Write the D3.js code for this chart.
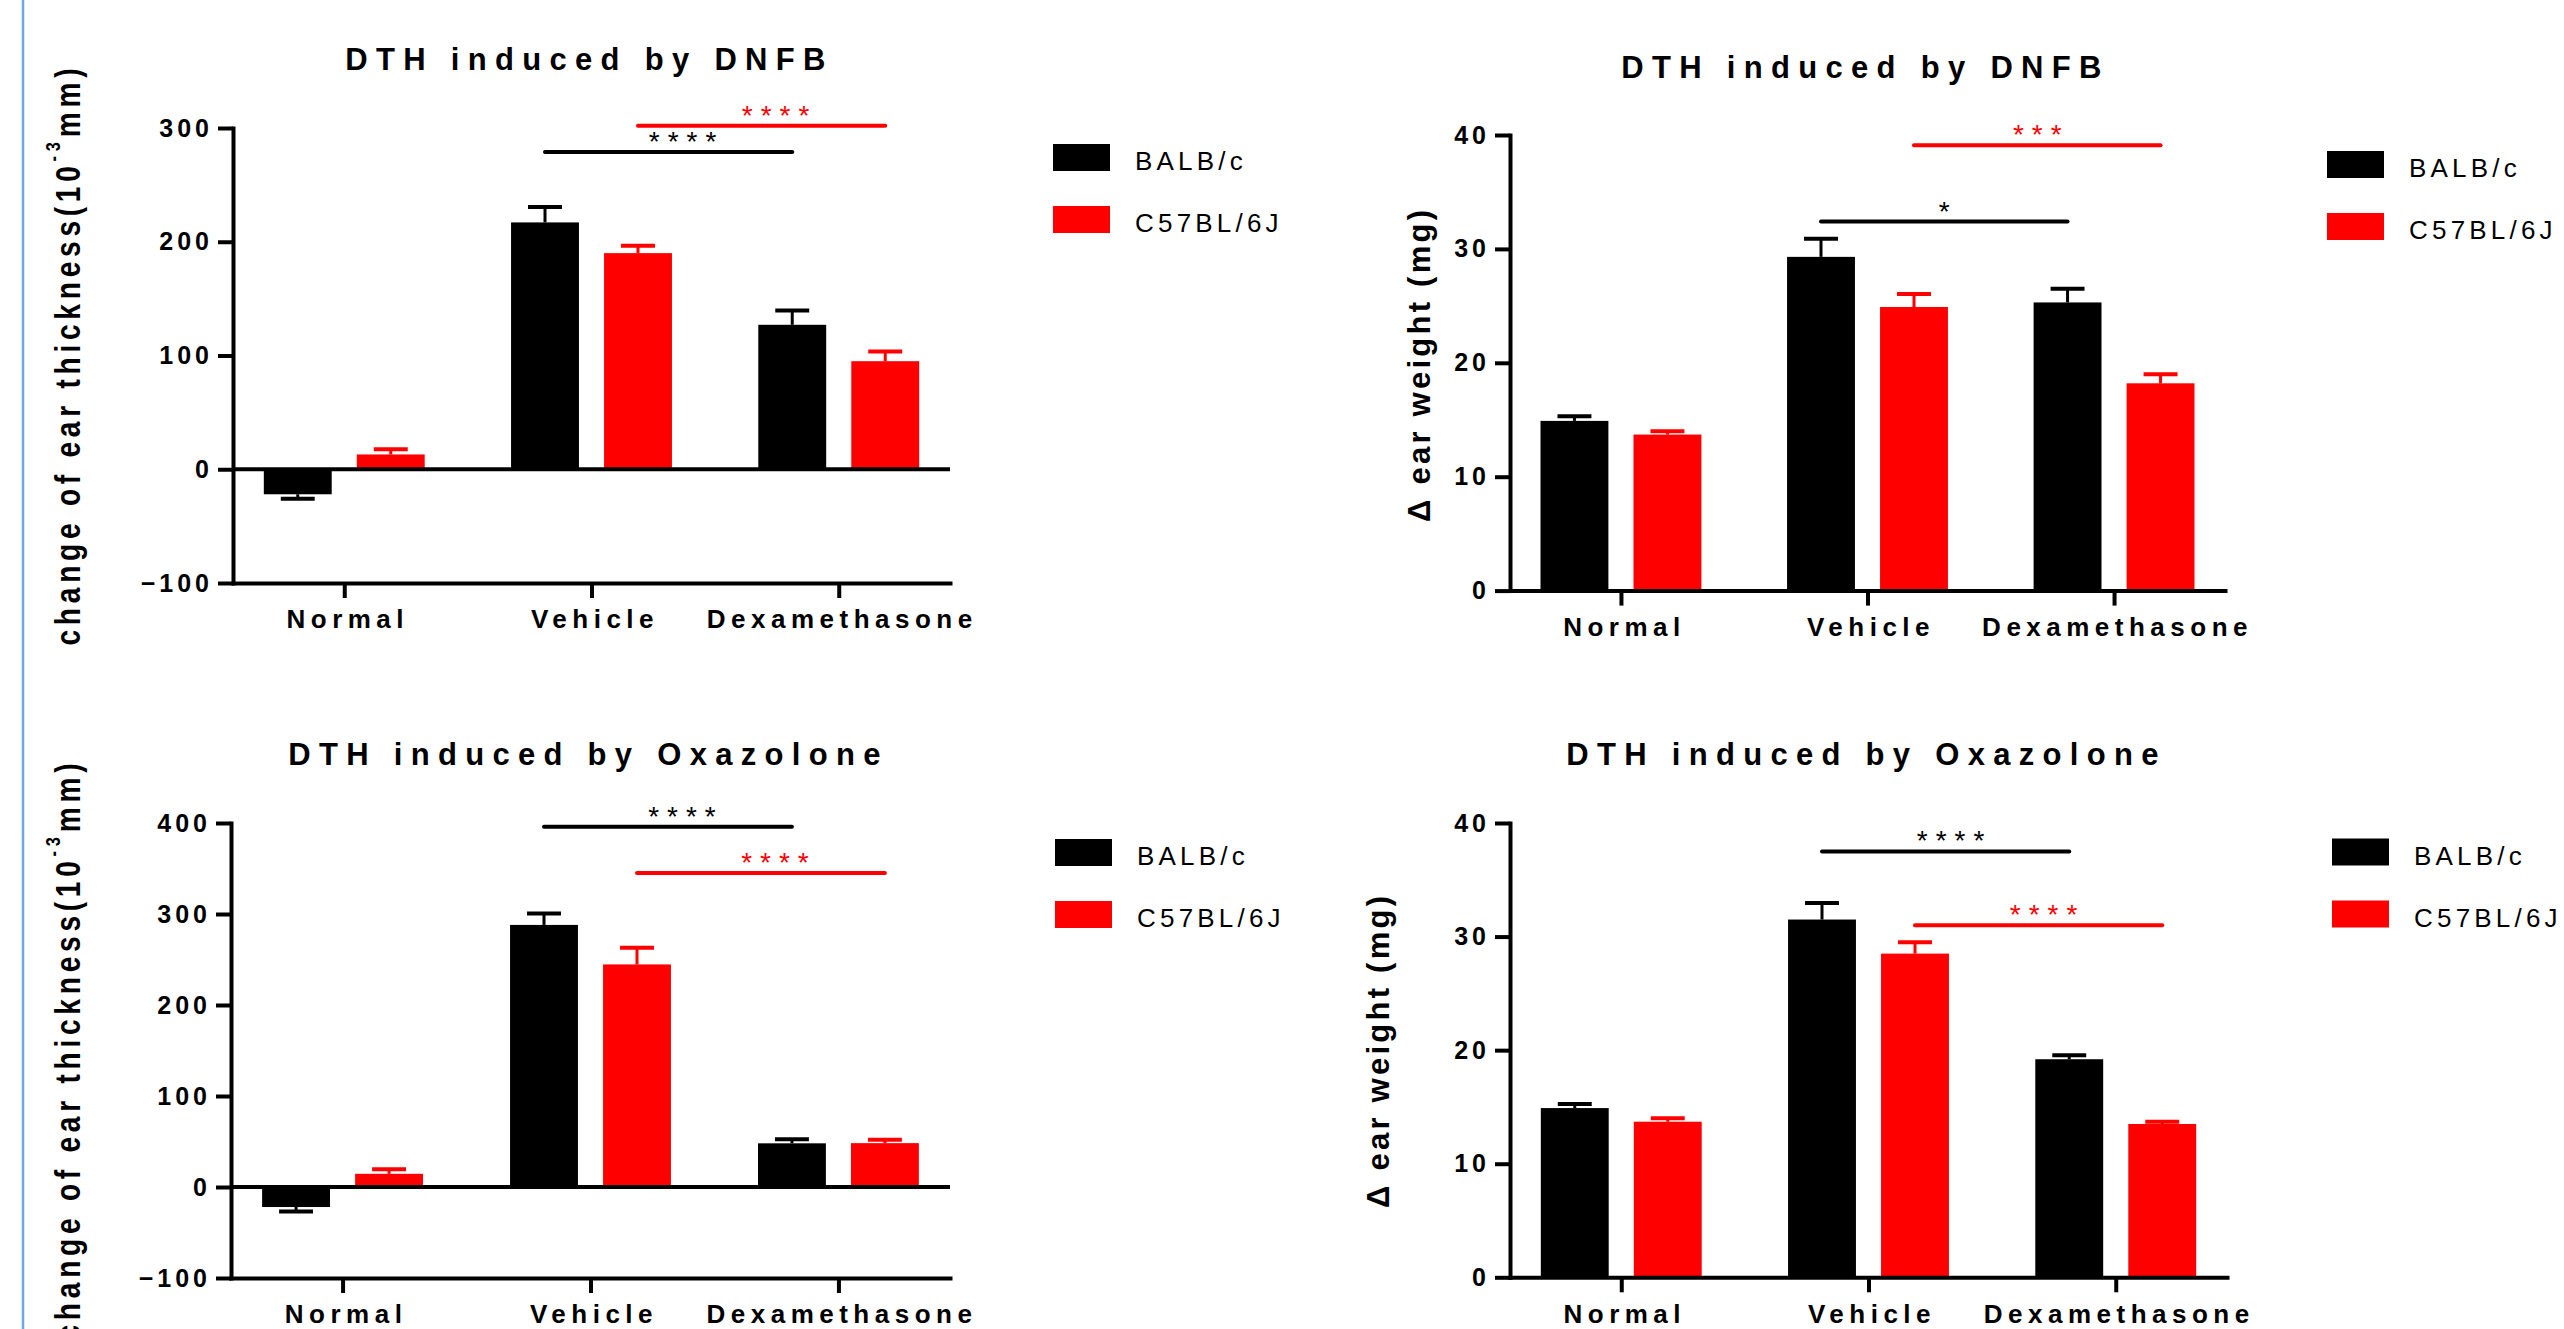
<!DOCTYPE html>
<html>
<head>
<meta charset="utf-8">
<script src="https://cdn.jsdelivr.net/npm/d3@7.9.0/dist/d3.min.js"></script>
<style>
  body { margin: 0; background: #fff; }
  svg { display: block; }
  text { font-family: "Liberation Sans", Arial, sans-serif; }
</style>
</head>
<body>
<svg id="chart" width="2564" height="1329"></svg>
<script>
const categories = ['Normal', 'Vehicle', 'Dexamethasone'];
const strains = ['BALB/c', 'C57BL/6J'];
const strainColors = ['#000000', '#ff0000'];

// DTH induced by DNFB, change of ear thickness (10^-3 mm)
const dnfbThickTicks = [-100, 0, 100, 200, 300];
const dnfbThickBalb = [-22, 217, 127];
const dnfbThickBalbErr = [4, 13.5, 12.5];
const dnfbThickC57 = [13, 190, 95];
const dnfbThickC57Err = [4.5, 6.5, 8.5];
const dnfbThickSig = [
  { strain: 0, value: 279, label: '****' },
  { strain: 1, value: 302, label: '****' }
];

// DTH induced by DNFB, ear weight (mg)
const dnfbWeightTicks = [0, 10, 20, 30, 40];
const dnfbWeightBalb = [14.9, 29.3, 25.3];
const dnfbWeightBalbErr = [0.4, 1.6, 1.2];
const dnfbWeightC57 = [13.7, 24.9, 18.2];
const dnfbWeightC57Err = [0.3, 1.15, 0.8];
const dnfbWeightSig = [
  { strain: 0, value: 32.4, label: '*' },
  { strain: 1, value: 39.1, label: '***' }
];

// DTH induced by Oxazolone, change of ear thickness (10^-3 mm)
const oxaThickTicks = [-100, 0, 100, 200, 300, 400];
const oxaThickBalb = [-22, 288, 48];
const oxaThickBalbErr = [5, 12.5, 4.5];
const oxaThickC57 = [14.5, 244.6, 48.2];
const oxaThickC57Err = [5, 18.4, 3.6];
const oxaThickSig = [
  { strain: 0, value: 396, label: '****' },
  { strain: 1, value: 345, label: '****' }
];

// DTH induced by Oxazolone, ear weight (mg)
const oxaWeightTicks = [0, 10, 20, 30, 40];
const oxaWeightBalb = [14.9, 31.5, 19.2];
const oxaWeightBalbErr = [0.35, 1.45, 0.35];
const oxaWeightC57 = [13.7, 28.5, 13.5];
const oxaWeightC57Err = [0.3, 1.0, 0.2];
const oxaWeightSig = [
  { strain: 0, value: 37.5, label: '****' },
  { strain: 1, value: 31.0, label: '****' }
];

const panels = [
  { title: 'DTH induced by DNFB', kind: 'thickness', ticks: dnfbThickTicks,
    values: [dnfbThickBalb, dnfbThickC57], errors: [dnfbThickBalbErr, dnfbThickC57Err], sig: dnfbThickSig,
    left: 233, right: 950, top: 128, bottom: 583, titleY: 70, labelX: 80, labelY: 357, legendX: 1053, legendY: 144, starShift: 14 },
  { title: 'DTH induced by DNFB', kind: 'weight', ticks: dnfbWeightTicks,
    values: [dnfbWeightBalb, dnfbWeightC57], errors: [dnfbWeightBalbErr, dnfbWeightC57Err], sig: dnfbWeightSig,
    left: 1510, right: 2225, top: 135, bottom: 590.6, titleY: 78, labelX: 1430, labelY: 366, legendX: 2327, legendY: 151, starShift: 0 },
  { title: 'DTH induced by Oxazolone', kind: 'thickness', ticks: oxaThickTicks,
    values: [oxaThickBalb, oxaThickC57], errors: [oxaThickBalbErr, oxaThickC57Err], sig: oxaThickSig,
    left: 231, right: 950, top: 823, bottom: 1278, titleY: 765, labelX: 80, labelY: 1052, legendX: 1055, legendY: 839, starShift: 14 },
  { title: 'DTH induced by Oxazolone', kind: 'weight', ticks: oxaWeightTicks,
    values: [oxaWeightBalb, oxaWeightC57], errors: [oxaWeightBalbErr, oxaWeightC57Err], sig: oxaWeightSig,
    left: 1510, right: 2227, top: 823, bottom: 1277.3, titleY: 765, labelX: 1389, labelY: 1052, legendX: 2332, legendY: 838.5, starShift: 5 }
];

const svg = d3.select('#chart');

// blue frame line on the left edge
svg.append('line')
  .attr('x1', 23).attr('x2', 23).attr('y1', 0).attr('y2', 1329)
  .attr('stroke', '#6fa8dc').attr('stroke-width', 2.5);

function drawPanel(p) {
  const g = svg.append('g');
  const x = d3.scalePoint().domain(categories).range([p.left, p.right]).padding(0.45);
  const xs = d3.scaleBand().domain(d3.range(strains.length)).range([-93, 93])
    .paddingInner(0.27).paddingOuter(0.135);
  const bw = xs.bandwidth();
  const y = d3.scaleLinear().domain(d3.extent(p.ticks)).range([p.bottom, p.top]);
  const barCenter = (cat, si) => x(cat) + xs(si) + bw / 2;

  strains.forEach((s, si) => {
    const rows = p.values[si].map((v, i) => ({ cat: categories[i], v, e: p.errors[si][i] }));
    g.append('g').selectAll('rect').data(rows).join('rect')
      .attr('x', d => x(d.cat) + xs(si))
      .attr('width', bw)
      .attr('y', d => y(Math.max(0, d.v)))
      .attr('height', d => Math.abs(y(d.v) - y(0)))
      .attr('fill', strainColors[si]);

    const eb = g.append('g').attr('stroke', strainColors[si]);
    const tip = d => d.v + Math.sign(d.v) * d.e;
    eb.selectAll('line.stem').data(rows).join('line')
      .attr('class', 'stem')
      .attr('x1', d => barCenter(d.cat, si)).attr('x2', d => barCenter(d.cat, si))
      .attr('y1', d => y(d.v)).attr('y2', d => y(tip(d)))
      .attr('stroke-width', 3);
    eb.selectAll('line.cap').data(rows).join('line')
      .attr('class', 'cap')
      .attr('x1', d => barCenter(d.cat, si) - bw / 4).attr('x2', d => barCenter(d.cat, si) + bw / 4)
      .attr('y1', d => y(tip(d))).attr('y2', d => y(tip(d)))
      .attr('stroke-width', 4);
  });

  // zero line when the axis goes below zero
  if (y.domain()[0] < 0) {
    g.append('line')
      .attr('x1', p.left).attr('x2', p.right)
      .attr('y1', y(0)).attr('y2', y(0))
      .attr('stroke', '#000').attr('stroke-width', 4);
  }

  // axes
  const yAxis = g.append('g').attr('transform', `translate(${p.left},0)`)
    .call(d3.axisLeft(y).tickValues(p.ticks).tickSize(15).tickSizeOuter(0).tickPadding(5));
  const xAxis = g.append('g').attr('transform', `translate(0,${p.bottom})`)
    .call(d3.axisBottom(x).tickSize(15).tickSizeOuter(0).tickPadding(12));
  [yAxis, xAxis].forEach(a => {
    a.select('.domain').attr('stroke-width', 4).attr('stroke-linecap', 'square');
    a.selectAll('.tick line').attr('stroke-width', 4);
  });
  yAxis.selectAll('.tick text')
    .attr('font-size', 25).attr('font-weight', 'bold').attr('letter-spacing', 4).attr('fill', '#000');
  xAxis.selectAll('.tick text')
    .attr('font-size', 26).attr('font-weight', 'bold').attr('letter-spacing', 5.5).attr('dx', 3).attr('fill', '#000');

  // significance bars
  p.sig.forEach(s => {
    const x1 = barCenter('Vehicle', s.strain);
    const x2 = barCenter('Dexamethasone', s.strain);
    g.append('line')
      .attr('x1', x1).attr('x2', x2).attr('y1', y(s.value)).attr('y2', y(s.value))
      .attr('stroke', strainColors[s.strain]).attr('stroke-width', 4).attr('stroke-linecap', 'round');
    g.append('text')
      .attr('x', (x1 + x2) / 2 + 4 + p.starShift).attr('y', y(s.value) - 1)
      .attr('text-anchor', 'middle').attr('font-size', 28).attr('letter-spacing', 8)
      .attr('fill', strainColors[s.strain])
      .text(s.label);
  });

  // title
  g.append('text')
    .attr('x', (p.left + p.right) / 2 - 2).attr('y', p.titleY)
    .attr('text-anchor', 'middle').attr('font-size', 31).attr('font-weight', 'bold')
    .attr('letter-spacing', 8.3)
    .text(p.title);

  // y axis label
  if (p.kind === 'thickness') {
    const lab = g.append('text')
      .attr('transform', `translate(${p.labelX},${p.labelY}) rotate(-90) scale(0.78,1)`)
      .attr('text-anchor', 'middle').attr('font-size', 36).attr('font-weight', 'bold')
      .attr('textLength', 577 / 0.78).attr('lengthAdjust', 'spacing');
    lab.append('tspan').text('change of ear thickness(10');
    lab.append('tspan').attr('font-size', 21).attr('dy', -20).text('-3');
    lab.append('tspan').attr('dy', 20).text('mm)');
  } else {
    g.append('text')
      .attr('transform', `translate(${p.labelX},${p.labelY}) rotate(-90)`)
      .attr('text-anchor', 'middle').attr('font-size', 31).attr('font-weight', 'bold')
      .attr('textLength', 312).attr('lengthAdjust', 'spacing')
      .text('\u0394 ear weight (mg)');
  }

  // legend
  const lg = g.append('g').attr('transform', `translate(${p.legendX},${p.legendY})`);
  strains.forEach((s, si) => {
    lg.append('rect')
      .attr('x', 0).attr('y', si * 62).attr('width', 57).attr('height', 27)
      .attr('fill', strainColors[si]);
    lg.append('text')
      .attr('x', 82).attr('y', si * 62 + 26)
      .attr('font-size', 26).attr('letter-spacing', 4.2)
      .text(s);
  });
}

panels.forEach(drawPanel);
</script>
</body>
</html>
